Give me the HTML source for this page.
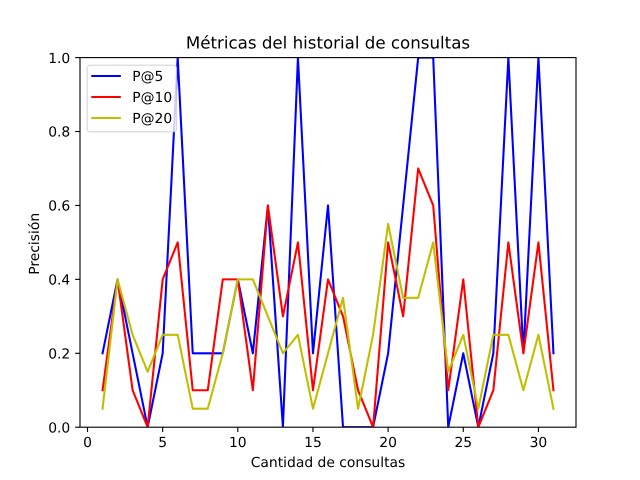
<!DOCTYPE html>
<html lang="es">
<head>
<meta charset="utf-8">
<title>Métricas del historial de consultas</title>
<style>
html,body{margin:0;padding:0;background:#fff;}
svg{display:block;font-family:"DejaVu Sans","Liberation Sans",sans-serif;text-rendering:geometricPrecision;}
</style>
</head>
<body>
<svg id="chart" xmlns="http://www.w3.org/2000/svg" width="640" height="480" viewBox="0 0 640 480">
<defs><clipPath id="plot-clip"><rect x="80" y="57.6" width="496" height="369.6"/></clipPath></defs>
<rect width="640" height="480" fill="#fff"/>
<rect x="80" y="57.6" width="496" height="369.6" fill="#fff"/>
<g id="series" clip-path="url(#plot-clip)"></g>
<g id="ticks"></g>
<rect x="80" y="57.6" width="496" height="369.6" fill="none" stroke="#000" stroke-width="1.11"/>
<text x="328" y="48.5" font-size="16.67" text-anchor="middle" fill="#000">Métricas del historial de consultas</text>
<text x="328" y="467" font-size="13.89" text-anchor="middle" fill="#000">Cantidad de consultas</text>
<text transform="translate(39 243.8) rotate(-90)" font-size="13.89" text-anchor="middle" fill="#000">Precisión</text>
<g id="legend"></g>
</svg>
<script>
const queryCounts = [1,2,3,4,5,6,7,8,9,10,11,12,13,14,15,16,17,18,19,20,21,22,23,24,25,26,27,28,29,30,31];
const p5Values = [0.2,0.4,0.2,0,0.2,1,0.2,0.2,0.2,0.4,0.2,0.6,0,1,0.2,0.6,0,0,0,0.2,0.6,1,1,0,0.2,0,0.2,1,0.2,1,0.2];
const p10Values = [0.1,0.4,0.1,0,0.4,0.5,0.1,0.1,0.4,0.4,0.1,0.6,0.3,0.5,0.1,0.4,0.3,0.1,0,0.5,0.3,0.7,0.6,0.1,0.4,0,0.1,0.5,0.2,0.5,0.1];
const p20Values = [0.05,0.4,0.25,0.15,0.25,0.25,0.05,0.05,0.2,0.4,0.4,0.3,0.2,0.25,0.05,0.2,0.35,0.05,0.25,0.55,0.35,0.35,0.5,0.15,0.25,0.05,0.25,0.25,0.1,0.25,0.05];
const seriesLabels = ['P@5','P@10','P@20'];
const xTickLabels = ['0','5','10','15','20','25','30'];
const yTickLabels = ['0.0','0.2','0.4','0.6','0.8','1.0'];

const NS = 'http://www.w3.org/2000/svg';
const plot = {left:80, right:576, top:57.6, bottom:427.2};
const seriesColors = ['#0000ff','#ff0000','#bfbf00'];
const seriesData = [p5Values, p10Values, p20Values];

const xMin = Math.min(...queryCounts), xMax = Math.max(...queryCounts);
const xPad = (xMax - xMin) * 0.05;
function xScale(v){
  return plot.left + (v - (xMin - xPad)) / ((xMax + xPad) - (xMin - xPad)) * (plot.right - plot.left);
}
function yScale(v){
  return plot.bottom - v * (plot.bottom - plot.top);
}
function make(tag, attrs, parent){
  const el = document.createElementNS(NS, tag);
  for (const k in attrs) el.setAttribute(k, attrs[k]);
  parent.appendChild(el);
  return el;
}

const seriesGroup = document.getElementById('series');
seriesData.forEach(function(values, s){
  const pts = values.map(function(v, i){ return xScale(queryCounts[i]).toFixed(2) + ',' + yScale(v).toFixed(2); }).join(' ');
  const line = make('polyline', {points:pts, fill:'none', stroke:seriesColors[s], 'stroke-width':2.08, 'stroke-linejoin':'round', 'stroke-linecap':'square'}, seriesGroup);
  
  
});

const tickGroup = document.getElementById('ticks');
xTickLabels.forEach(function(label){
  const x = xScale(Number(label));
  const mark = make('line', {x1:x, x2:x, y1:plot.bottom, y2:plot.bottom + 4.86, stroke:'#000', 'stroke-width':1.11}, tickGroup);
  
  
  const text = make('text', {x:x, y:447, 'font-size':13.89, 'text-anchor':'middle', fill:'#000'}, tickGroup);
  
  
  text.textContent = label;
});
yTickLabels.forEach(function(label){
  const y = yScale(Number(label));
  const mark = make('line', {x1:plot.left - 4.86, x2:plot.left, y1:y, y2:y, stroke:'#000', 'stroke-width':1.11}, tickGroup);
  
  
  const text = make('text', {x:plot.left - 9.72, y:y + 5.2, 'font-size':13.89, 'text-anchor':'end', fill:'#000'}, tickGroup);
  
  
  text.textContent = label;
});

const legendGroup = document.getElementById('legend');
const legendBox = make('rect', {x:87.2, y:65.2, width:89.3, height:66.6, rx:2.8, ry:2.8, fill:'#fff', 'fill-opacity':0.8, stroke:'#cccccc', 'stroke-opacity':0.8, 'stroke-width':1.11}, legendGroup);


seriesLabels.forEach(function(label, s){
  const y = 76 + s * 21;
  const handle = make('line', {x1:92.3, x2:119.8, y1:y, y2:y, stroke:seriesColors[s], 'stroke-width':2.08, 'stroke-linecap':'square'}, legendGroup);
  
  
  const text = make('text', {x:132.3, y:y + 5, 'font-size':13.89, fill:'#000'}, legendGroup);
  
  
  text.textContent = label;
});
</script>
</body>
</html>
